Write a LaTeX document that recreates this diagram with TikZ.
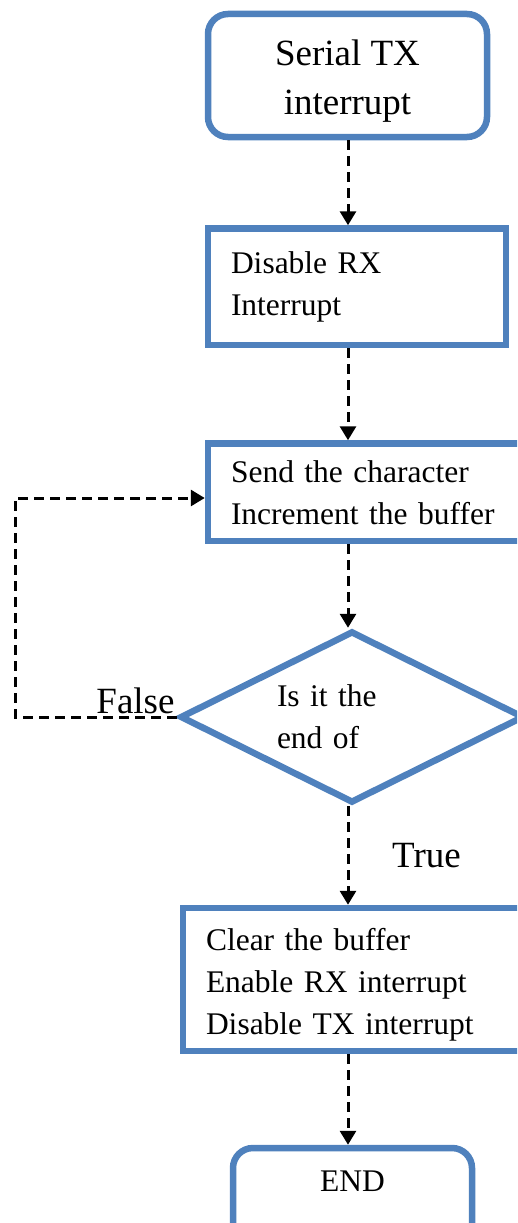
\documentclass[tikz,border=0pt]{standalone}
\usepackage{fontspec}
\setmainfont{Liberation Serif}
\usetikzlibrary{shapes.geometric, arrows.meta}
\definecolor{boxColor}{RGB}{79,129,189}
\newcommand{\boxFont}{\fontsize{31.5}{42}\selectfont}
\newcommand{\titleFont}{\fontsize{37}{49}\selectfont}
\tikzstyle{chart} = [x = 1pt, y = -1pt]
\tikzstyle{boxStyle} = [draw=boxColor, line width=6.5pt, fill=white, font=\boxFont]
\tikzstyle{processBox} = [boxStyle, rectangle, align=left, inner xsep=23pt]
\tikzstyle{terminalBox} = [boxStyle, rectangle, rounded corners=20pt, align=center]
\tikzstyle{decisionBox} = [boxStyle, diamond, shape aspect=2, inner sep=0pt, align=left]
\tikzstyle{flowLine} = [black, line width=3pt, dash pattern=on 10pt off 6pt, -{Triangle[length=14pt, width=16pt]}]
\tikzstyle{branchText} = [font=\titleFont, inner sep=0pt]

\begin{document}
\begin{tikzpicture}[chart]
  \useasboundingbox (0,0) rectangle (517,1223);
  \clip (0,0) rectangle (517,1223);

  % boxes, top to bottom
  \node [terminalBox, font=\titleFont, minimum width=279pt, minimum height=123pt] (start) at (347.5,75.5) {\rule{0pt}{37pt}Serial TX\\interrupt};
  \node [processBox, minimum width=298pt, minimum height=116.5pt, text width=252pt] (disableRx) at (357,286.75) {Disable RX\\Interrupt};
  \node [processBox, minimum width=322pt, minimum height=97.5pt, text width=276pt] (sendChar) at (369,492.25) {Send the character\\Increment the buffer};
  \node [decisionBox, minimum width=344pt, minimum height=172pt, text width=150pt] (check) at (352,717) {Is it the\\end of};
  \node [processBox, minimum width=347pt, minimum height=143pt, text width=301pt] (clearBuf) at (356.5,979.5) {\rule{0pt}{32pt}Clear the buffer\\Enable RX interrupt\\Disable TX interrupt};
  \node [terminalBox, minimum width=239pt, minimum height=106pt, text depth=39pt] (endNode) at (352.5,1201) {END};

  % dashed connectors
  \coordinate (spine) at (348,0);
  \coordinate (loopTop) at (15,498);
  \draw [flowLine] (start.south -| spine) -- (disableRx.north -| spine);
  \draw [flowLine] (disableRx.south -| spine) -- (sendChar.north -| spine);
  \draw [flowLine] (sendChar.south -| spine) -- (check.north -| spine);
  \draw [flowLine] (check.south -| spine) -- (clearBuf.north -| spine);
  \draw [flowLine] (clearBuf.south -| spine) -- (endNode.north -| spine);
  \draw [flowLine] (check.west) -| (loopTop) -- (loopTop -| sendChar.west);

  % branch labels
  \node [branchText, anchor=base east] (falseLabel) at ([shift={(-2,-4)}]check.west) {False};
  \node [branchText, anchor=base west] (trueLabel) at (392,867) {True};
\end{tikzpicture}
\end{document}
